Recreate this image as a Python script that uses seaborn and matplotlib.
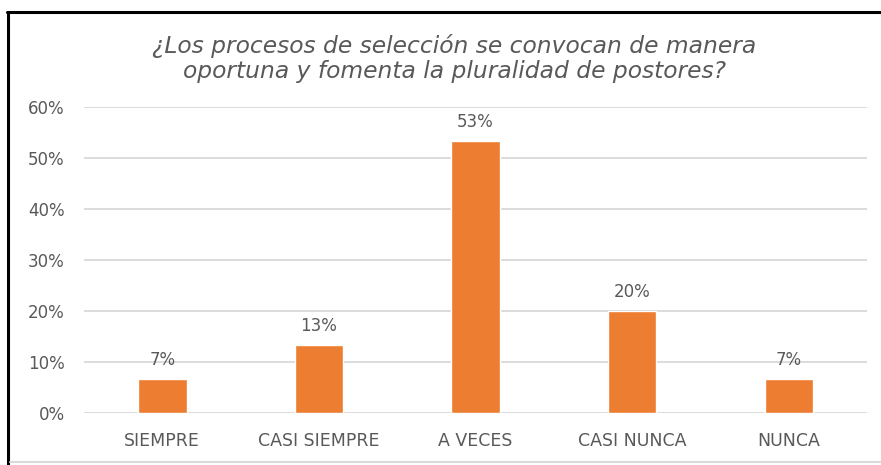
import matplotlib
matplotlib.use("Agg")
import matplotlib.pyplot as plt
import pandas as pd
import seaborn as sns
from matplotlib.lines import Line2D
from matplotlib.ticker import PercentFormatter

categories = ["SIEMPRE", "CASI SIEMPRE", "A VECES", "CASI NUNCA", "NUNCA"]
values = [6.67, 13.33, 53.33, 20.0, 6.67]
labels = ["7%", "13%", "53%", "20%", "7%"]
title = "¿Los procesos de selección se convocan de manera\noportuna y fomenta la pluralidad de postores?"

df = pd.DataFrame({"respuesta": categories, "valor": values})

sns.set_theme(style="white")
plt.rcParams["font.family"] = ["DejaVu Sans"]

gray = "#595959"
fig = plt.figure(figsize=(8.81, 4.65), dpi=100)
ax = fig.add_axes([0.0953, 0.112, 0.889, 0.658])

sns.barplot(data=df, x="respuesta", y="valor", color="#ED7D31",
            width=0.31, saturation=1, ax=ax)

for i, (v, lab) in enumerate(zip(values, labels)):
    ax.text(i, v + 2.0, lab, ha="center", va="bottom", fontsize=12, color=gray)

ax.set_ylim(0, 60)
ax.set_yticks(range(0, 61, 10))
ax.yaxis.set_major_formatter(PercentFormatter(decimals=0))
ax.set_xlim(-0.5, 4.5)
ax.grid(axis="y", color="#D9D9D9", linewidth=1.3)
ax.set_axisbelow(True)
for s in ax.spines.values():
    s.set_visible(False)
ax.set_xlabel("")
ax.set_ylabel("")
ax.tick_params(axis="both", length=0, colors=gray)
ax.tick_params(axis="x", pad=14, labelsize=12.5)
ax.tick_params(axis="y", pad=14, labelsize=12)

fig.text(0.516, 0.874, title, ha="center", va="center", fontsize=16.8,
         style="italic", color=gray, linespacing=1.12)

# outer frame like the source screenshot
fig.add_artist(Line2D([0.009, 0.009], [0, 0.974], color="black", lw=2.2,
                      transform=fig.transFigure))
fig.add_artist(Line2D([0.008, 1.0], [0.974, 0.974], color="black", lw=2.2,
                      transform=fig.transFigure))
fig.add_artist(Line2D([0.011, 1.0], [0.006, 0.006], color="#D9D9D9", lw=1.5,
                      transform=fig.transFigure))

fig.savefig("out.png", dpi=100)
